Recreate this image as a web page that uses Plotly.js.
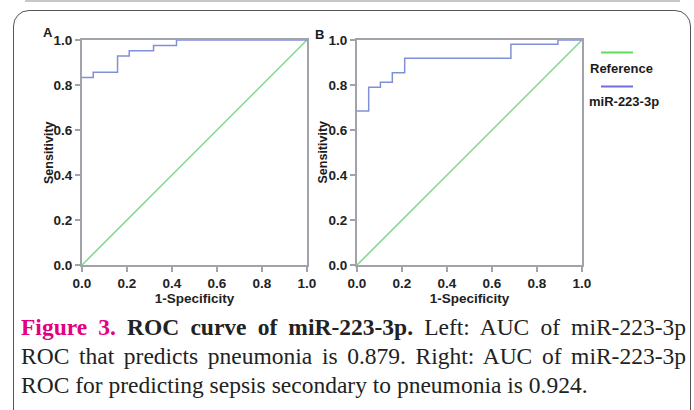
<!DOCTYPE html>
<html>
<head>
<meta charset="utf-8">
<script src="https://cdn.plot.ly/plotly-3.0.1.min.js"></script>
<style>
  html, body { margin:0; padding:0; background:#fff; }
  #wrap { position:relative; width:694px; height:410px; overflow:hidden; background:#fff; }
  #chart { position:absolute; left:0; top:0; width:694px; height:410px; }
  #topline { position:absolute; left:25px; top:0px; width:655px; height:2px; background:#c8c8c8; }
  #frame { position:absolute; left:13px; top:10px; width:678px; height:420px; border:1.3px solid #555; border-radius:16px; pointer-events:none; box-sizing:border-box; }
  #caption { position:absolute; left:21px; top:313px; width:665px; font-family:"Times New Roman","Liberation Serif",Tinos,Times,serif; font-size:23.5px; line-height:29px; color:#222; }
  #caption .ln { white-space:nowrap; text-align:justify; text-align-last:justify; }
  #caption .last { white-space:nowrap; text-align:left; }
  #caption .fig { color:#e5007e; font-weight:bold; }
  #caption .bt { font-weight:bold; color:#222; }
</style>
</head>
<body>
<div id="wrap">
  <div id="topline"></div>
  <div id="chart"></div>
  <div id="frame"></div>
  <div id="caption">
    <div class="ln"><span class="fig">Figure 3.</span> <span class="bt">ROC curve of miR-223-3p.</span> Left: AUC of miR-223-3p</div>
    <div class="ln">ROC that predicts pneumonia is 0.879. Right: AUC of miR-223-3p</div>
    <div class="last">ROC for predicting sepsis secondary to pneumonia is 0.924.</div>
  </div>
</div>
<script>
// Data
const refX = [0, 1];
const refY = [0, 1];
const fprA = [0, 0.05, 0.158, 0.21, 0.318, 0.42, 1];
const tprA = [0.833, 0.857, 0.929, 0.952, 0.976, 1, 1];
const fprB = [0, 0.052, 0.104, 0.157, 0.212, 0.684, 0.893, 1];
const tprB = [0.684, 0.79, 0.812, 0.855, 0.919, 0.981, 1, 1];
const tickVals = [0, 0.2, 0.4, 0.6, 0.8, 1.0];
const panelLabels = ['A', 'B'];
const legendNames = ['Reference', 'miR-223-3p'];
const xTitle = '1-Specificity';
const yTitle = 'Sensitivity';

const greenRef = '#7fd88a';
const blueRoc = '#8090d8';
const axisCol = '#a2a2aa';
const W = 694, H = 410;
const SANS = 'Arial, Liberation Sans, Arimo, sans-serif';

const traces = [
  {x: refX, y: refY, xaxis:'x', yaxis:'y', mode:'lines', line:{color:greenRef, width:1.5}, name:legendNames[0], showlegend:false},
  {x: fprA, y: tprA, xaxis:'x', yaxis:'y', mode:'lines', line:{color:blueRoc, width:1.5, shape:'hv'}, name:legendNames[1], showlegend:false},
  {x: refX, y: refY, xaxis:'x2', yaxis:'y2', mode:'lines', line:{color:greenRef, width:1.5}, name:legendNames[0], showlegend:false},
  {x: fprB, y: tprB, xaxis:'x2', yaxis:'y2', mode:'lines', line:{color:blueRoc, width:1.5, shape:'hv'}, name:legendNames[1], showlegend:false}
];

const tickFont = {family:SANS, size:13.5, color:'#222', weight:700};
const titleFont = {family:SANS, size:13.5, color:'#222', weight:700};

function xa(domain) {
  return {domain: domain, range:[0,1], tickvals: tickVals, tickformat:'.1f', ticks:'outside', ticklen:5, tickwidth:1.5, tickcolor:axisCol,
    showline:true, linecolor:axisCol, linewidth:2, mirror:true, showgrid:false, zeroline:false, tickfont:tickFont,
    title:{text:xTitle, font:titleFont, standoff:1}, fixedrange:true};
}
function ya(domain, anchor) {
  return {domain: domain, anchor: anchor, range:[0,1], tickvals: tickVals, tickformat:'.1f', ticks:'outside', ticklen:5, tickwidth:1.5, tickcolor:axisCol,
    showline:true, linecolor:axisCol, linewidth:2, mirror:true, showgrid:false, zeroline:false, tickfont:tickFont,
    fixedrange:true};
}

function ann(text, px, py, size, angle) {
  return {text:text, xref:'paper', yref:'paper', x:px/W, y:(H-py)/H, xanchor:'center', yanchor:'middle', showarrow:false,
    textangle: angle || 0, font:{family:SANS, size:size, color:'#1a1a1a', weight:700}};
}

const yDom = [(H-265)/H, (H-40)/H];
const layout = {
  width: W, height: H,
  margin: {l:0, r:0, t:0, b:0},
  paper_bgcolor:'rgba(0,0,0,0)', plot_bgcolor:'#fff',
  showlegend:false,
  xaxis: Object.assign(xa([82/W, 307/W]), {anchor:'y'}),
  yaxis: ya(yDom, 'x'),
  xaxis2: Object.assign(xa([357/W, 582/W]), {anchor:'y2'}),
  yaxis2: ya(yDom, 'x2'),
  shapes: [
    {type:'line', xref:'paper', yref:'paper', x0:601/W, x1:633/W, y0:(H-52.5)/H, y1:(H-52.5)/H, line:{color:'#5fdc5a', width:2}},
    {type:'line', xref:'paper', yref:'paper', x0:601/W, x1:633/W, y0:(H-86.5)/H, y1:(H-86.5)/H, line:{color:'#6f6fdc', width:2}}
  ],
  annotations: [
    ann(panelLabels[0], 48, 33, 13),
    ann(panelLabels[1], 319.5, 34.5, 13),
    ann(yTitle, 48.5, 152.5, 12.5, -90),
    ann(yTitle, 322, 152.5, 12.5, -90),
    ann(legendNames[0], 621.5, 68, 13),
    ann(legendNames[1], 624, 101.5, 13)
  ]
};

Plotly.newPlot('chart', traces, layout, {staticPlot:true, displayModeBar:false});
</script>
</body>
</html>
